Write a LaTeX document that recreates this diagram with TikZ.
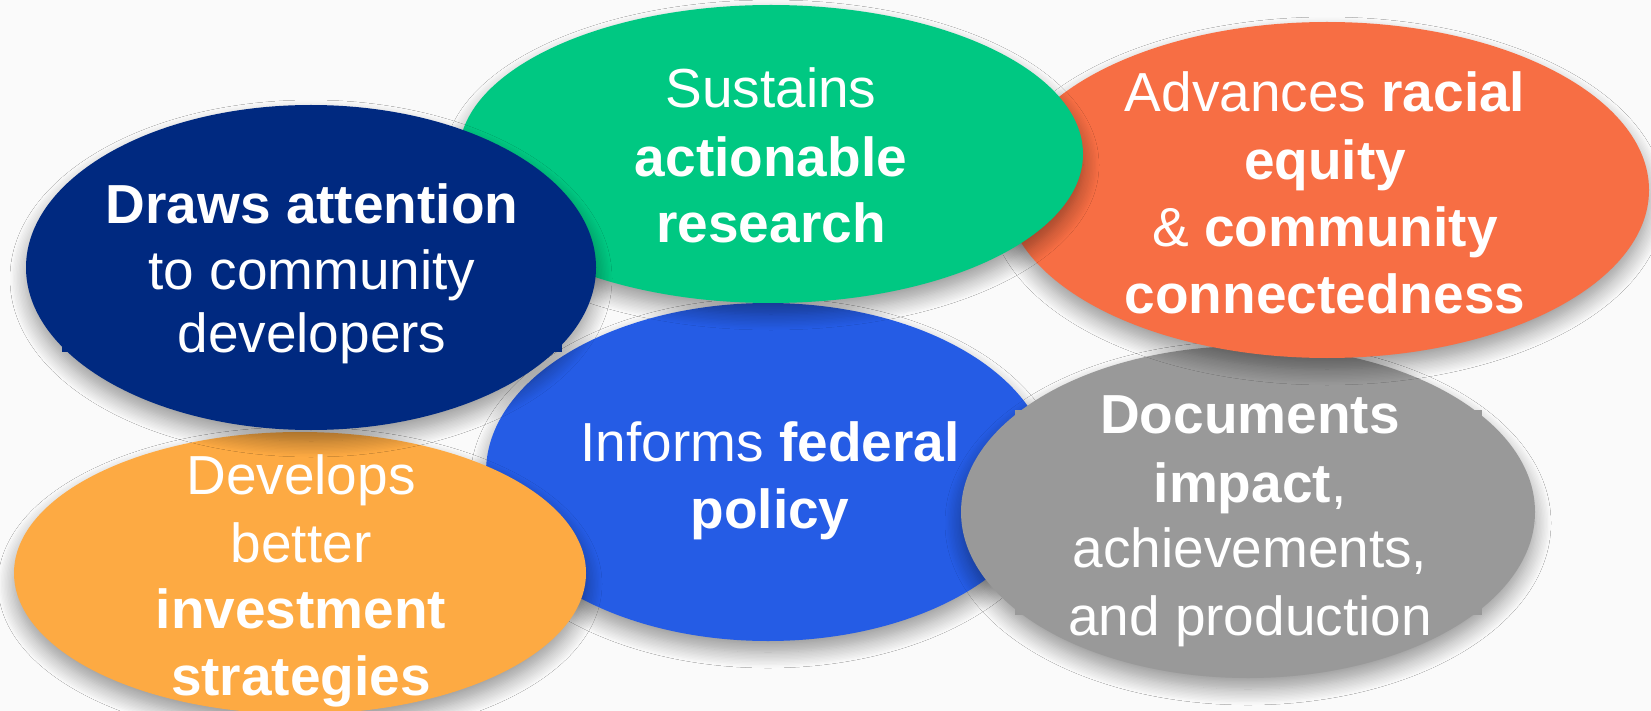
\documentclass[tikz,border=0pt]{standalone}
\usepackage{fontspec}
\setmainfont{Liberation Sans}
\usetikzlibrary{shapes.geometric,shadows.blur}
\definecolor{cnavy}{HTML}{002980}
\definecolor{cgreen}{HTML}{00C882}
\definecolor{cred}{HTML}{F76E44}
\definecolor{cblue}{HTML}{255CE5}
\definecolor{corange}{HTML}{FDAA43}
\definecolor{cgray}{HTML}{999999}
\definecolor{cbg}{HTML}{FAFAFA}
\tikzset{
  blob/.style={ellipse, inner sep=0pt, draw=none,
    blur shadow={shadow xshift=0pt, shadow yshift=-11pt, shadow blur radius=16pt, shadow blur steps=12, shadow opacity=40}},
  lbl/.style={anchor=base, inner sep=0pt, text=white, font=\fontsize{55}{66}\selectfont}
}
\begin{document}
\begin{tikzpicture}[x=1pt,y=-1pt]
\fill[cbg] (0,0) rectangle (1651,711);
\useasboundingbox (0,0) rectangle (1651,711);
% blue
\node[blob, fill=cblue, minimum width=564pt, minimum height=338pt] (blue) at (768,472) {};
\node[lbl] (b1) at (770,461) {Informs \textbf{federal}};
\node[lbl] (b2) at (770,528) {\textbf{policy}};
% gray
\node[blob, fill=cgray, minimum width=574pt, minimum height=332pt] (gray) at (1248,512) {};
\fill[cgray] (1015,410) rectangle (1482,615);
\node[lbl] (g1) at (1250,433) {\textbf{Documents}};
\node[lbl] (g2) at (1250,502) {\textbf{impact},};
\node[lbl] (g3) at (1250,567) {achievements,};
\node[lbl] (g4) at (1250,635) {and production};
% orange-red
\node[blob, fill=cred, minimum width=644pt, minimum height=336pt] (red) at (1327,190) {};
\node[lbl] (r1) at (1325,112) {Advances \textbf{racial}};
\node[lbl] (r2) at (1325,180) {\textbf{equity}};
\node[lbl] (r3) at (1325,247) {\& \textbf{community}};
\node[lbl] (r4) at (1325,313) {\textbf{connectedness}};
% green
\node[blob, fill=cgreen, minimum width=624pt, minimum height=298pt] (green) at (771,154) {};
\node[lbl] (s1) at (771,108) {Sustains};
\node[lbl] (s2) at (771,177) {\textbf{actionable}};
\node[lbl] (s3) at (771,243) {\textbf{research}};
% orange
\node[blob, fill=corange, minimum width=572pt, minimum height=282pt] (orange) at (300,573) {};
\node[lbl] (o1) at (301,494) {Develops};
\node[lbl] (o2) at (301,562) {better};
\node[lbl] (o3) at (301,628) {\textbf{investment}};
\node[lbl] (o4) at (301,695) {\textbf{strategies}};
% navy
\node[blob, fill=cnavy, minimum width=570pt, minimum height=325pt] (navy) at (311,267.5) {};
\fill[cnavy] (62,200) rectangle (562,352);
\node[lbl] (d1) at (312,224) {\textbf{Draws attention}};
\node[lbl] (d2) at (312,290) {to community};
\node[lbl] (d3) at (312,352) {developers};
\end{tikzpicture}
\end{document}
